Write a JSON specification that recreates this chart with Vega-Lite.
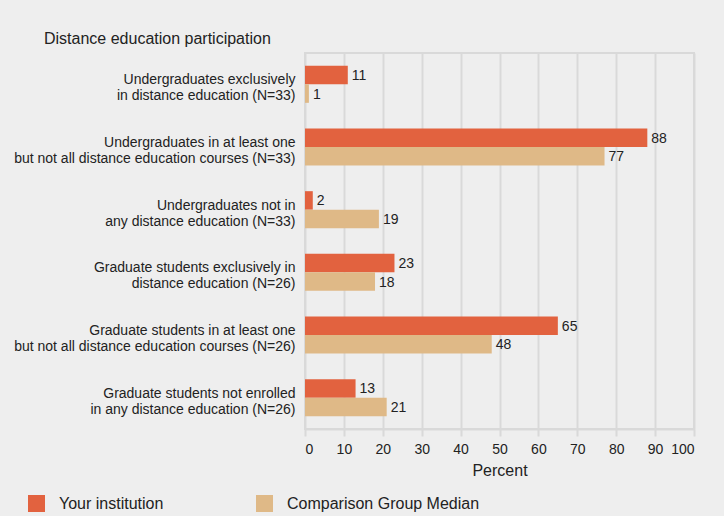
{
  "$schema": "https://vega.github.io/schema/vega-lite/v6.json",
  "width": 389,
  "height": 376,
  "autosize": {"type": "none"},
  "padding": {"left": 305, "top": 53, "right": 30, "bottom": 87},
  "background": "#eeeeee",
  "config": {
    "font": "Liberation Sans",
    "view": {"stroke": "#d9d9d9", "strokeWidth": 2}
  },
  "title": {
    "text": "Distance education participation",
    "anchor": "start",
    "frame": "group",
    "dx": -261,
    "offset": 6,
    "fontSize": 16,
    "fontWeight": "normal",
    "color": "#222222",
    "font": "Liberation Sans"
  },
  "data": {
    "values": [
      {"category": "Undergraduates exclusively|in distance education (N=33)", "series": "Your institution", "value": 11},
      {"category": "Undergraduates exclusively|in distance education (N=33)", "series": "Comparison Group Median", "value": 1},
      {"category": "Undergraduates in at least one|but not all distance education courses (N=33)", "series": "Your institution", "value": 88},
      {"category": "Undergraduates in at least one|but not all distance education courses (N=33)", "series": "Comparison Group Median", "value": 77},
      {"category": "Undergraduates not in|any distance education (N=33)", "series": "Your institution", "value": 2},
      {"category": "Undergraduates not in|any distance education (N=33)", "series": "Comparison Group Median", "value": 19},
      {"category": "Graduate students exclusively in|distance education (N=26)", "series": "Your institution", "value": 23},
      {"category": "Graduate students exclusively in|distance education (N=26)", "series": "Comparison Group Median", "value": 18},
      {"category": "Graduate students in at least one|but not all distance education courses (N=26)", "series": "Your institution", "value": 65},
      {"category": "Graduate students in at least one|but not all distance education courses (N=26)", "series": "Comparison Group Median", "value": 48},
      {"category": "Graduate students not enrolled|in any distance education (N=26)", "series": "Your institution", "value": 13},
      {"category": "Graduate students not enrolled|in any distance education (N=26)", "series": "Comparison Group Median", "value": 21}
    ]
  },
  "encoding": {
    "y": {
      "field": "category",
      "type": "nominal",
      "sort": null,
      "scale": {"paddingInner": 0.41, "paddingOuter": 0.205},
      "axis": {
        "title": null,
        "domain": false,
        "ticks": false,
        "labelExpr": "split(datum.label, '|')",
        "labelFontSize": 14,
        "labelLineHeight": 16,
        "labelColor": "#222222",
        "labelPadding": 10,
        "labelOffset": -4,
        "labelLimit": 400
      }
    },
    "yOffset": {
      "field": "series",
      "type": "nominal",
      "scale": {"domain": ["Your institution", "Comparison Group Median"], "paddingInner": 0, "paddingOuter": 0}
    },
    "x": {
      "field": "value",
      "type": "quantitative",
      "scale": {"domain": [0, 100], "nice": false},
      "axis": {
        "title": "Percent",
        "titleFontSize": 16,
        "titleFontWeight": "normal",
        "titleColor": "#222222",
        "titlePadding": 6,
        "values": [0, 10, 20, 30, 40, 50, 60, 70, 80, 90, 100],
        "grid": true,
        "gridColor": "#d9d9d9",
        "gridWidth": 2,
        "domainColor": "#d9d9d9",
        "domainWidth": 2,
        "tickColor": "#d9d9d9",
        "tickWidth": 2,
        "tickSize": 7,
        "labelFontSize": 14,
        "labelColor": "#222222",
        "labelPadding": 6
      }
    }
  },
  "layer": [
    {
      "mark": {"type": "bar"},
      "encoding": {
        "color": {
          "field": "series",
          "type": "nominal",
          "scale": {"domain": ["Your institution", "Comparison Group Median"], "range": ["#e2623f", "#dfb987"]},
          "legend": {
            "title": null,
            "orient": "none",
            "direction": "horizontal",
            "legendX": -277,
            "legendY": 442,
            "symbolType": "square",
            "symbolSize": 289,
            "symbolStrokeWidth": 0,
            "symbolOpacity": 1,
            "labelFontSize": 16,
            "labelColor": "#222222",
            "labelOffset": 14,
            "labelLimit": 400,
            "columns": 2,
            "columnPadding": 92
          }
        }
      }
    },
    {
      "mark": {"type": "text", "align": "left", "baseline": "middle", "dx": 4, "dy": 1, "fontSize": 14, "color": "#222222"},
      "encoding": {
        "text": {"field": "value", "type": "quantitative"}
      }
    }
  ]
}
